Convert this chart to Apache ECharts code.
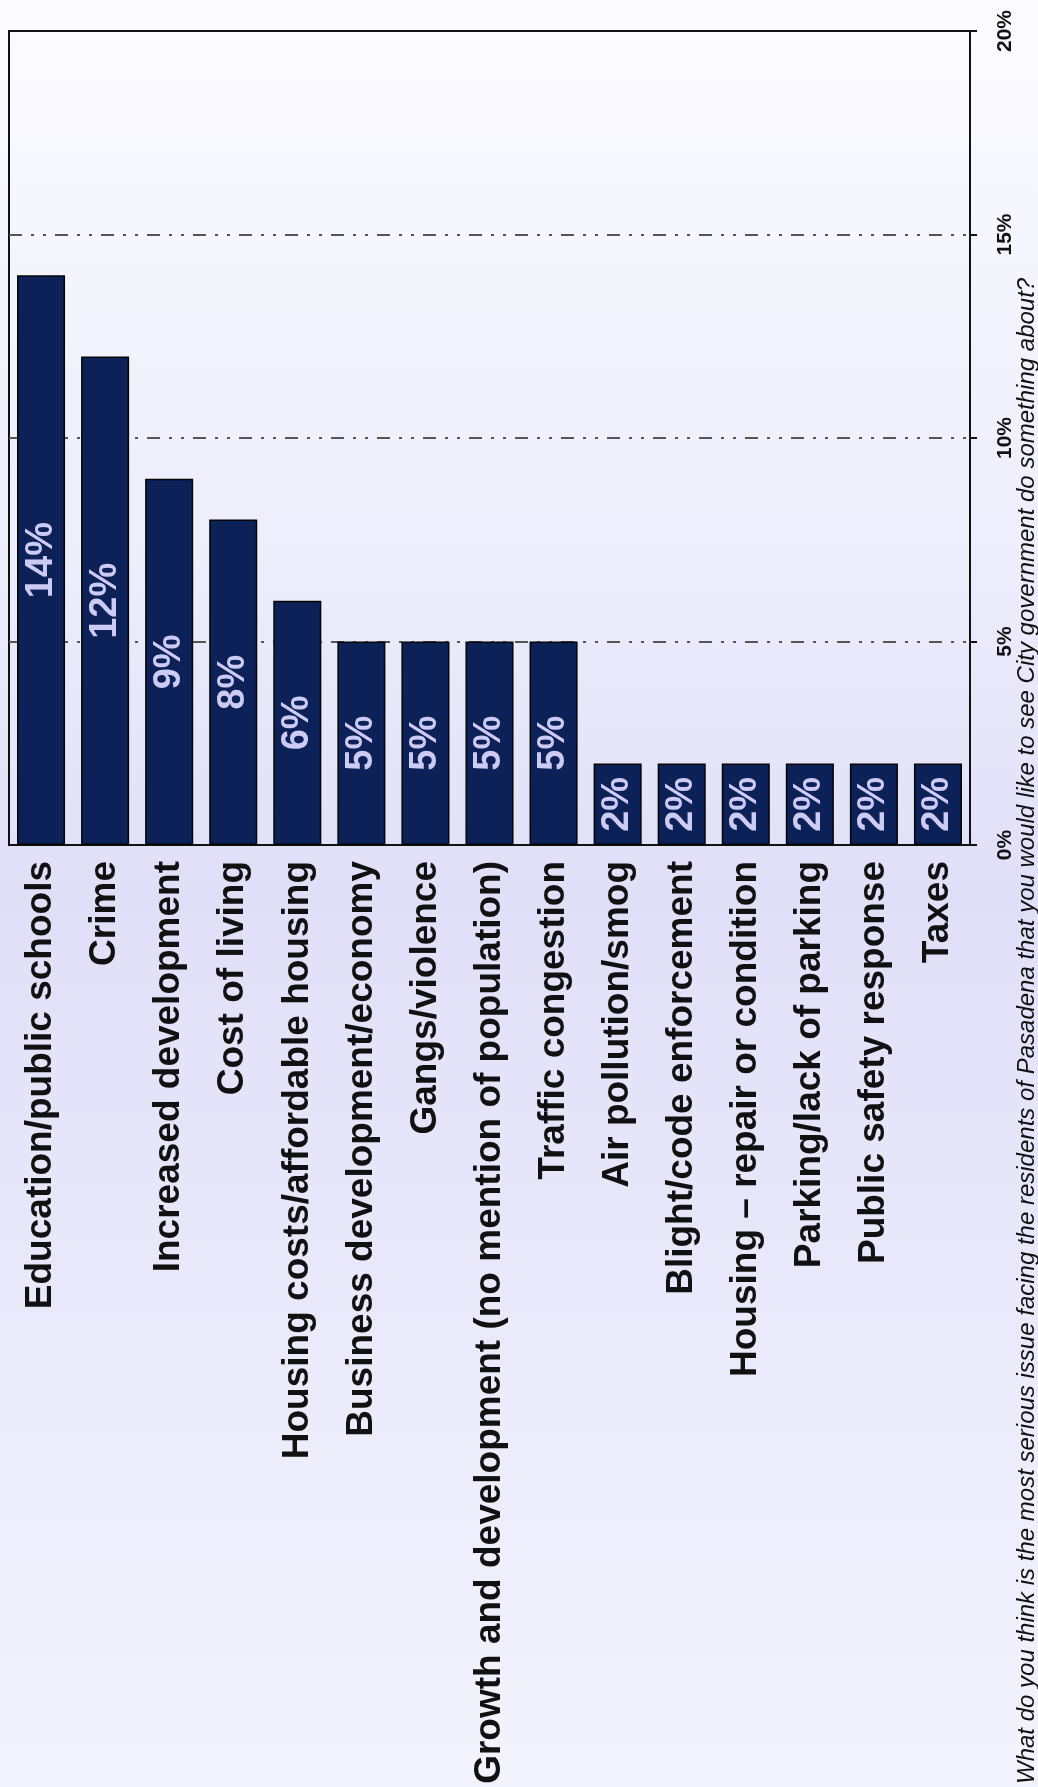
<!DOCTYPE html>
<html>
<head>
<meta charset="utf-8">
<script src="https://cdn.jsdelivr.net/npm/echarts@6/dist/echarts.min.js"></script>
<style>
html,body{margin:0;padding:0;background:#f2f2fc;}
#chart{width:1038px;height:1787px;}
</style>
</head>
<body>
<div id="chart"></div>
<script>
const categories = [
  "Education/public schools",
  "Crime",
  "Increased development",
  "Cost of living",
  "Housing costs/affordable housing",
  "Business development/economy",
  "Gangs/violence",
  "Growth and development (no mention of population)",
  "Traffic congestion",
  "Air pollution/smog",
  "Blight/code enforcement",
  "Housing \u2013 repair or condition",
  "Parking/lack of parking",
  "Public safety response",
  "Taxes"
];
const values = [14, 12, 9, 8, 6, 5, 5, 5, 5, 2, 2, 2, 2, 2, 2];
const questionText = "What do you think is the most serious issue facing the residents of Pasadena that you would like to see City government do something about?";

const chart = echarts.init(document.getElementById('chart'), null, {renderer: 'canvas'});
const FONT = "'Liberation Sans', Arial, Helvetica, sans-serif";
chart.setOption({
  backgroundColor: {
    type: 'linear', x: 0, y: 0, x2: 0, y2: 1,
    colorStops: [
      {offset: 0, color: '#fbfbff'},
      {offset: 0.3, color: '#eeeefc'},
      {offset: 0.5, color: '#e0dff8'},
      {offset: 0.75, color: '#eaeafb'},
      {offset: 1, color: '#f3f3fd'}
    ]
  },
  animation: false,
  grid: {left: 9, right: 68, top: 31, bottom: 942, show: true, borderColor: '#111', borderWidth: 2, backgroundColor: 'transparent'},
  xAxis: {
    type: 'category',
    data: categories,
    axisTick: {show: false},
    axisLine: {lineStyle: {color: '#111', width: 2}},
    axisLabel: {
      interval: 0, rotate: 90, margin: 16,
      fontSize: 37, fontWeight: 'bold', color: '#111', fontFamily: FONT
    }
  },
  yAxis: {
    type: 'value', position: 'right',
    min: 0, max: 20, interval: 5,
    axisLine: {show: true, lineStyle: {color: '#111', width: 2}},
    axisTick: {show: true, length: 7, lineStyle: {color: '#111', width: 2}},
    axisLabel: {
      formatter: '{value}%', rotate: 90, margin: 25,
      fontSize: 21, fontWeight: 'bold', color: '#111', fontFamily: FONT
    },
    splitLine: {show: true, lineStyle: {color: ['rgba(0,0,0,0)', '#555', '#555', '#555', 'rgba(0,0,0,0)'], width: 2, type: [13, 9, 3, 9, 3, 9]}}
  },
  series: [{
    type: 'bar',
    data: values,
    barWidth: '75%',
    itemStyle: {color: '#0b2157', borderColor: '#050505', borderWidth: 1.5},
    label: {
      show: true, position: 'inside', rotate: 90,
      align: 'center', verticalAlign: 'middle',
      formatter: '{c}%', fontSize: 38, fontWeight: 'bold', color: '#cdcbf4', fontFamily: FONT
    }
  }],
  graphic: [{
    type: 'text',
    x: 1027, y: 1784,
    rotation: Math.PI / 2,
    style: {
      text: questionText,
      font: "italic 24px 'Liberation Sans', Arial, sans-serif",
      fill: '#111',
      textAlign: 'left',
      textVerticalAlign: 'middle'
    }
  }]
});
</script>
</body>
</html>
